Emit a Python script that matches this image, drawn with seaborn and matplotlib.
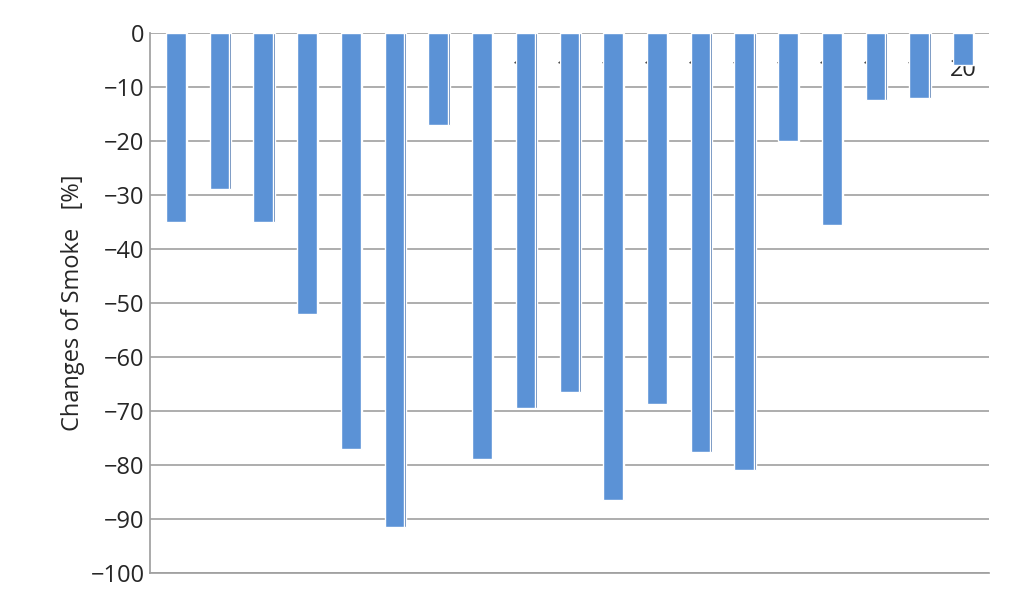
import matplotlib
matplotlib.use("Agg")
import matplotlib.pyplot as plt
import seaborn as sns
import pandas as pd

categories = ["1","2","3","5","6","7","8","9","10","11","12","13","14","15","16","17","18","19","20"]
values = [-35,-29,-35,-52,-77,-91.5,-17,-79,-69.5,-66.5,-86.5,-68.7,-77.6,-81,-20,-35.5,-12.5,-12,-6]
df = pd.DataFrame({"cat": categories, "val": values})

sns.set_theme(style="white")
plt.rcParams['font.family'] = ['Open Sans', 'DejaVu Sans']
fig = plt.figure(figsize=(10.24, 5.98), dpi=100)
ax = fig.add_axes([0.146, 0.042, 0.82, 0.903])

# darker side face
ax.bar([i + 0.16 for i in range(len(values))], values, width=0.2, color="#3d6aa8", zorder=2)
sns.barplot(data=df, x="cat", y="val", color="#5b92d6", saturation=1, width=0.45, ax=ax, zorder=3)

ax.set_ylim(-100, 0)
ax.set_xlim(-0.6, 18.6)
ax.set_yticks(range(-100, 1, 10))
ax.tick_params(axis='y', labelsize=17, length=0)
ax.yaxis.grid(True, color="#a0a0a0", lw=1.2)
ax.set_axisbelow(True)
ax.set_xlabel("")
ax.set_ylabel("Changes of Smoke   [%]", fontsize=17)
ax.xaxis.tick_top()
ax.tick_params(axis='x', labelsize=17, length=0, pad=-35)
for s in ["top", "right"]:
    ax.spines[s].set_visible(False)
ax.spines["left"].set_color("#a0a0a0")
ax.spines["bottom"].set_color("#a0a0a0")
fig.savefig("out.png")
